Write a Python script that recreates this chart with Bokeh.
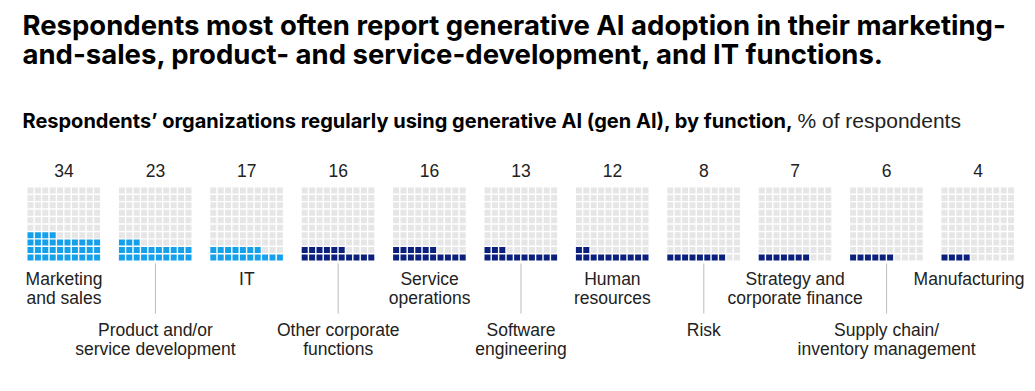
from bokeh.plotting import figure
from bokeh.models import Range1d, ColumnDataSource
from bokeh.core.properties import value
from bokeh.embed import file_html
from bokeh.resources import INLINE

functions = ["Marketing\nand sales", "Product and/or\nservice development", "IT",
             "Other corporate\nfunctions", "Service\noperations", "Software\nengineering",
             "Human\nresources", "Risk", "Strategy and\ncorporate finance",
             "Supply chain/\ninventory management", "Manufacturing"]
values = [34, 23, 17, 16, 16, 13, 12, 8, 7, 6, 4]
highlight = [True, True, True, False, False, False, False, False, False, False, False]

W, H = 1027, 383
LIGHT = "#15A0EC"
NAVY = "#0B207C"
GRAY = "#E6E6E6"
BODY_FONT = "Liberation Sans"
TITLE_FONT = "Inter"

p = figure(width=W, height=H, output_backend="svg", toolbar_location=None,
           x_range=Range1d(0, W), y_range=Range1d(H, 0), min_border=0)
p.axis.visible = False
p.grid.visible = False
p.outline_line_color = None
p.background_fill_color = "white"

# layout constants
grid_left0 = 27.0
grid_pitch = 91.4
cell_pitch = 7.4
cell = 6.0
row0_y = 257.0

xs, ys, cs = [], [], []
for i, v in enumerate(values):
    left = grid_left0 + grid_pitch * i
    for k in range(100):
        c, r = k % 10, k // 10
        xs.append(left + 3 + c * cell_pitch)
        ys.append(row0_y - r * 7.45)
        if k < v:
            cs.append(LIGHT if highlight[i] else NAVY)
        else:
            cs.append(GRAY)
p.rect(x="x", y="y", width=cell, height=cell, fill_color="c", line_color=None,
       source=ColumnDataSource(dict(x=xs, y=ys, c=cs)))

centers = [grid_left0 + grid_pitch * i + 36.5 for i in range(len(values))]

# value labels
p.text(x=centers, y=[170] * len(values), text=[str(v) for v in values],
       text_font=value(BODY_FONT), text_font_size="17.5px", text_color="#222222",
       text_align="center", text_baseline="middle")

# function labels
lx, ly, lt, la = [], [], [], []
for i, name in enumerate(functions):
    lines = name.split("\n")
    base = 278 if i % 2 == 0 else 329
    cx = centers[i]
    align = "center"
    if i == len(functions) - 1:
        cx = 1024
        align = "right"
    for j, ln in enumerate(lines):
        lx.append(cx)
        ly.append(base + 19 * j)
        lt.append(ln)
        la.append(align)
p.text(x="x", y="y", text="t", text_align="a",
       source=ColumnDataSource(dict(x=lx, y=ly, t=lt, a=la)),
       text_font=value(BODY_FONT), text_font_size="17.5px", text_color="#222222",
       text_baseline="middle")

# leader lines for lower labels
for i in range(1, len(functions), 2):
    p.segment(x0=[centers[i]], y0=[263], x1=[centers[i]], y1=[313],
              line_color="#BBBBBB", line_width=1)

# titles
p.text(x=[22, 22], y=[24, 53],
       text=["Respondents most often report generative AI adoption in their marketing-",
             "and-sales, product- and service-development, and IT functions."],
       text_font=value(TITLE_FONT), text_font_style="bold", text_font_size="27.5px",
       text_color="#000000", text_baseline="middle")
p.text(x=[22], y=[120],
       text=["Respondents\u2019 organizations regularly using generative AI (gen AI), by function,"],
       text_font=value(TITLE_FONT), text_font_style="bold", text_font_size="20px",
       text_color="#000000", text_baseline="middle")
p.text(x=[797], y=[120], text=["% of respondents"],
       text_font=value(BODY_FONT), text_font_size="21px",
       text_color="#222222", text_baseline="middle")

open("out.html", "w").write(file_html(p, INLINE))
